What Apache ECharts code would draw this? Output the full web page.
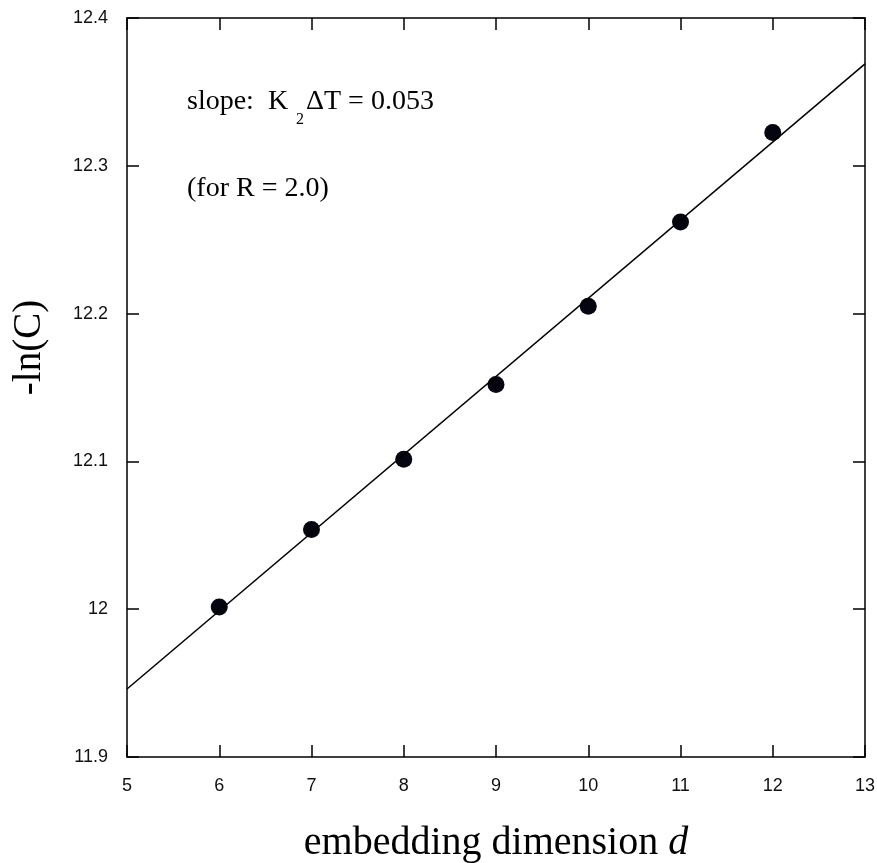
<!DOCTYPE html>
<html>
<head>
<meta charset="utf-8">
<script src="https://cdn.jsdelivr.net/npm/echarts@6/dist/echarts.min.js"></script>
<style>html,body{margin:0;padding:0;background:#fff;}#c{width:877px;height:863px;}</style>
</head>
<body>
<div id="c"></div>
<script>
// Data
const dims = [6, 7, 8, 9, 10, 11, 12];
const negLnC = [12.0015, 12.054, 12.1015, 12.152, 12.205, 12.262, 12.3225];
const fitX = [5, 13];
const fitY = [11.946, 12.369];
const xTicks = { min: 5, max: 13, interval: 1 };
const yTicks = { min: 11.9, max: 12.4, interval: 0.1 };

const chart = echarts.init(document.getElementById('c'), null, { renderer: 'canvas' });
const axisLine = { show: true, lineStyle: { color: '#000', width: 1.5 } };
const tick = { show: true, inside: true, length: 12, lineStyle: { color: '#000', width: 1.5 } };
const labelStyle = { color: '#111', fontFamily: 'Liberation Sans, Arial, sans-serif', fontSize: 18 };
const serif = 'Liberation Serif, Times New Roman, serif';

chart.setOption({
  animation: false,
  backgroundColor: '#fff',
  grid: { left: 127, right: 12, top: 18, bottom: 106, containLabel: false, outerBoundsMode: 'none' },
  xAxis: [
    {
      type: 'value', position: 'bottom', min: xTicks.min, max: xTicks.max, interval: xTicks.interval,
      axisLine, axisTick: tick, splitLine: { show: false },
      axisLabel: Object.assign({ margin: 20 }, labelStyle),
      name: '{a|embedding dimension }{d|d}',
      nameLocation: 'middle', nameGap: 66,
      nameTextStyle: {
        rich: {
          a: { fontFamily: serif, fontSize: 40, color: '#000' },
          d: { fontFamily: serif, fontSize: 40, fontStyle: 'italic', color: '#000' }
        }
      }
    },
    {
      type: 'value', position: 'top', min: xTicks.min, max: xTicks.max, interval: xTicks.interval,
      axisLine, axisTick: tick, splitLine: { show: false }, axisLabel: { show: false }
    }
  ],
  yAxis: [
    {
      type: 'value', position: 'left', min: yTicks.min, max: yTicks.max, interval: yTicks.interval,
      axisLine, axisTick: tick, splitLine: { show: false },
      axisLabel: Object.assign({ margin: 19 }, labelStyle),
      name: '-ln(C)', nameLocation: 'middle', nameGap: 78,
      nameTextStyle: { fontFamily: serif, fontSize: 39, color: '#000', padding: [0, 0, 0, 80] }
    },
    {
      type: 'value', position: 'right', min: yTicks.min, max: yTicks.max, interval: yTicks.interval,
      axisLine, axisTick: tick, splitLine: { show: false }, axisLabel: { show: false }
    }
  ],
  graphic: [
    { type: 'text', left: 187, top: 88, style: { text: 'slope:  K', font: '28px ' + serif, fill: '#000' } },
    { type: 'text', left: 296, top: 112, style: { text: '2', font: '16px ' + serif, fill: '#000' } },
    { type: 'text', left: 306, top: 88, style: { text: 'ΔT = 0.053', font: '28px ' + serif, fill: '#000' } },
    { type: 'text', left: 187, top: 175, style: { text: '(for R = 2.0)', font: '28px ' + serif, fill: '#000' } }
  ],
  series: [
    {
      type: 'line', xAxisIndex: 0, yAxisIndex: 0,
      data: fitX.map((x, i) => [x, fitY[i]]),
      showSymbol: false, symbol: 'none',
      lineStyle: { color: '#000', width: 1.5 }, silent: true
    },
    {
      type: 'scatter', xAxisIndex: 0, yAxisIndex: 0,
      data: dims.map((d, i) => [d, negLnC[i]]),
      symbol: 'circle', symbolSize: 17,
      itemStyle: { color: '#050510', opacity: 1 }
    }
  ]
});
</script>
</body>
</html>
